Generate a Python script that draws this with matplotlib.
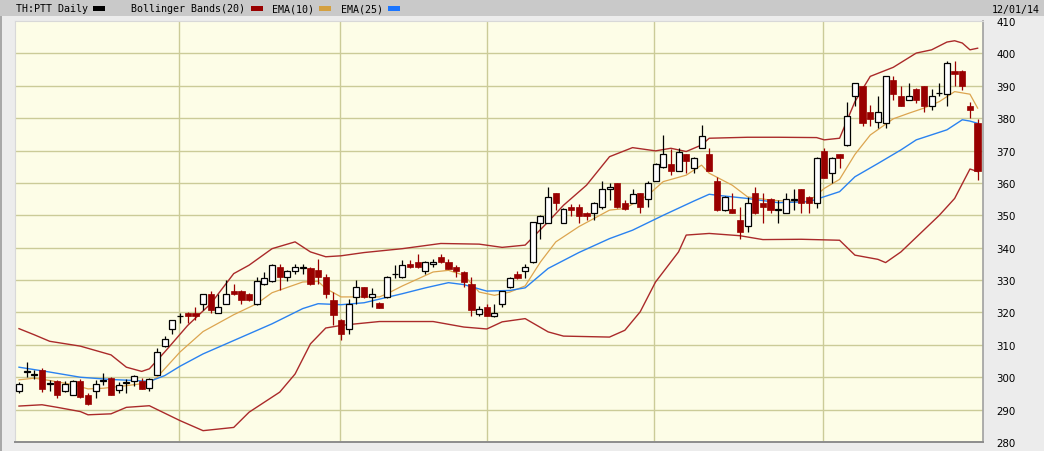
import matplotlib
matplotlib.use("Agg")
import matplotlib.pyplot as plt
from matplotlib.patches import Rectangle
import numpy as np

# daily candles, TH:PTT (index = trading day)
opens = [295.7, 301.7, 300.7, 302.1, 298.0, 298.8, 295.7, 294.6, 298.8, 294.6,
         295.7, 298.8, 299.8, 296.2, 298.2, 298.8, 298.8, 296.7, 300.8, 309.6,
         315.0, 318.8, 319.8, 319.8, 322.7, 325.6, 319.9, 322.7, 326.7, 326.7,
         325.8, 322.5, 328.9, 329.8, 333.9, 330.8, 332.8, 333.7, 333.8, 333.0,
         330.8, 324.0, 317.8, 315.0, 324.8, 327.9, 324.8, 323.0, 324.8, 331.8,
         330.8, 334.9, 335.6, 332.8, 334.9, 337.0, 335.6, 333.9, 332.5, 328.9,
         319.6, 321.8, 318.9, 322.6, 327.9, 332.0, 332.8, 335.6, 347.7, 347.7,
         356.8, 347.7, 352.6, 352.6, 350.8, 350.8, 352.6, 358.0, 359.9, 353.9,
         353.9, 356.8, 354.9, 360.7, 364.8, 365.7, 363.8, 368.8, 364.7, 370.9,
         368.8, 360.7, 351.6, 351.8, 348.7, 346.6, 356.8, 353.9, 354.9, 351.6,
         350.8, 354.8, 358.0, 355.7, 353.9, 369.9, 363.0, 368.8, 371.7, 386.7,
         389.8, 381.8, 378.7, 378.4, 391.8, 386.7, 385.6, 389.0, 389.8, 383.9,
         387.7, 387.5, 394.7, 394.7, 383.9, 378.6]
highs = [298.5, 304.7, 302.3, 302.8, 299.0, 299.2, 298.8, 299.1, 299.6, 295.0,
         299.0, 301.3, 300.0, 298.5, 299.6, 300.7, 299.7, 299.8, 309.1, 312.7,
         317.8, 319.9, 320.0, 321.7, 325.8, 326.7, 325.6, 330.0, 328.9, 327.0,
         326.0, 330.8, 332.5, 335.0, 334.9, 333.0, 334.9, 334.9, 334.0, 336.6,
         332.0, 326.2, 317.9, 324.3, 330.0, 328.0, 327.4, 323.2, 331.3, 334.6,
         336.1, 336.1, 338.0, 335.8, 336.6, 338.0, 336.6, 334.6, 332.7, 331.0,
         322.0, 322.5, 322.7, 326.7, 331.0, 332.8, 334.9, 348.0, 350.2, 358.8,
         357.0, 352.3, 353.5, 353.4, 351.0, 354.2, 360.7, 359.9, 360.0, 354.8,
         358.0, 357.0, 360.7, 366.0, 374.8, 370.5, 370.7, 369.0, 368.0, 377.9,
         370.9, 361.7, 356.0, 356.8, 352.6, 355.7, 358.8, 356.8, 355.2, 354.7,
         356.8, 358.0, 358.2, 356.0, 368.0, 370.9, 368.0, 369.0, 385.1, 391.0,
         390.0, 384.1, 386.7, 393.0, 392.9, 389.8, 390.8, 389.2, 390.0, 389.0,
         390.8, 397.8, 397.8, 394.8, 384.9, 379.7]
lows = [295.2, 300.0, 299.6, 295.5, 295.6, 293.6, 295.4, 294.4, 293.6, 291.5,
        293.6, 297.5, 294.4, 295.0, 295.0, 297.4, 296.3, 295.7, 300.6, 309.3,
        313.4, 316.8, 316.8, 317.6, 320.7, 319.8, 319.7, 322.5, 325.3, 322.7,
        323.5, 322.3, 328.5, 329.5, 326.9, 329.8, 332.0, 332.0, 328.5, 328.7,
        324.6, 316.0, 311.4, 313.4, 322.7, 324.6, 321.6, 321.3, 324.6, 330.5,
        330.6, 333.7, 333.7, 331.8, 334.0, 335.4, 333.3, 330.8, 327.9, 318.9,
        318.8, 318.8, 318.7, 321.7, 327.7, 330.3, 330.5, 335.4, 342.6, 347.5,
        351.6, 347.5, 349.7, 347.7, 348.5, 348.5, 351.8, 354.7, 352.4, 351.6,
        353.7, 350.6, 352.6, 360.5, 364.6, 362.6, 363.6, 363.0, 363.0, 370.7,
        363.6, 351.4, 351.4, 350.6, 342.6, 344.9, 350.4, 347.7, 350.8, 347.7,
        350.6, 351.6, 350.8, 350.8, 352.3, 361.4, 359.9, 364.7, 371.5, 383.7,
        377.7, 377.7, 376.9, 377.0, 385.6, 383.6, 385.5, 384.6, 382.0, 382.5,
        386.7, 383.9, 389.8, 388.7, 380.0, 360.9]
closes = [297.8, 302.0, 301.0, 296.4, 298.2, 294.6, 297.8, 298.8, 293.9, 291.6,
          297.8, 299.0, 294.6, 297.6, 298.5, 300.5, 296.4, 299.5, 307.8, 311.9,
          317.6, 319.0, 318.9, 318.9, 325.6, 320.8, 321.7, 325.6, 325.6, 323.8,
          323.9, 329.8, 330.7, 334.8, 330.8, 332.8, 333.9, 333.9, 328.7, 330.8,
          325.6, 319.2, 313.4, 322.7, 327.9, 324.8, 325.8, 321.5, 330.8, 332.0,
          334.8, 333.9, 333.9, 335.6, 335.6, 335.6, 333.5, 332.8, 329.4, 320.7,
          321.0, 318.9, 319.9, 326.5, 330.7, 330.5, 333.9, 347.8, 349.9, 355.7,
          353.9, 351.8, 351.6, 349.9, 349.9, 353.9, 358.0, 358.8, 352.6, 351.8,
          356.6, 352.6, 359.9, 365.7, 368.8, 363.8, 369.7, 366.8, 367.8, 374.6,
          363.8, 351.6, 355.7, 350.8, 344.7, 353.9, 350.6, 352.6, 351.6, 351.9,
          354.9, 355.0, 353.9, 353.9, 367.8, 361.6, 367.8, 367.8, 380.8, 390.8,
          378.4, 379.8, 381.8, 392.9, 387.5, 383.8, 386.7, 385.6, 383.8, 386.7,
          387.9, 397.0, 393.7, 389.8, 382.5, 363.7]

# indicator lines, read at the given day indices
bb_upper_idx = [0, 2, 4, 8, 12, 14, 16, 17, 19, 22, 25, 28, 30, 33, 36, 38, 40, 42, 45,
                50, 55, 60, 63, 66, 69, 71, 74, 77, 80, 83, 85, 87, 89, 90, 95, 99, 104,
                105, 107, 109, 111, 114, 117, 119, 121, 122, 123, 124, 125]
bb_upper = [315.0, 313.1, 311.1, 309.6, 306.9, 303.1, 301.8, 302.6, 307.8, 316.0, 322.7,
            332.0, 334.6, 339.7, 341.8, 338.7, 337.2, 337.5, 338.5, 339.7, 341.3, 341.1,
            340.1, 340.8, 348.0, 353.1, 359.3, 368.1, 370.9, 369.9, 370.7, 369.7, 371.7,
            373.8, 374.1, 374.1, 374.0, 373.3, 373.8, 385.1, 392.9, 395.7, 400.1, 401.1,
            403.5, 403.9, 403.2, 401.1, 401.6]
bb_lower_idx = [0, 3, 5, 8, 9, 12, 14, 17, 19, 21, 24, 28, 30, 34, 36, 38, 40, 42, 44,
                47, 54, 58, 61, 63, 66, 69, 71, 77, 79, 81, 83, 86, 87, 90, 94, 97, 102,
                107, 109, 112, 113, 115, 120, 122, 124, 125]
bb_lower = [291.1, 291.5, 290.7, 289.4, 288.4, 288.7, 290.7, 291.2, 288.9, 286.6, 283.5,
            284.5, 289.2, 295.4, 301.0, 310.3, 315.2, 316.0, 316.5, 317.2, 317.2, 315.5,
            314.9, 317.1, 318.1, 314.0, 312.7, 312.4, 314.5, 320.2, 329.4, 338.7, 343.9,
            344.4, 343.7, 342.5, 342.6, 342.3, 337.7, 336.4, 335.4, 338.7, 350.0, 355.2,
            364.3, 363.5]
ema10_idx = [0, 2, 4, 7, 9, 11, 14, 17, 18, 19, 21, 24, 28, 31, 33, 37, 39, 40, 42, 44,
             47, 48, 50, 54, 56, 58, 60, 62, 64, 66, 68, 70, 73, 77, 79, 82, 84, 87, 89,
             90, 93, 95, 98, 101, 103, 105, 107, 109, 111, 114, 116, 118, 120, 122, 124, 125]
ema10 = [299.2, 299.7, 299.0, 297.7, 296.4, 296.6, 297.4, 298.3, 300.0, 302.6, 307.8,
         314.1, 319.3, 322.7, 326.1, 329.4, 329.6, 327.4, 324.8, 324.8, 324.8, 325.8,
         328.2, 332.5, 333.0, 331.5, 326.3, 325.3, 326.3, 328.2, 335.6, 341.8, 346.5,
         351.6, 352.1, 356.2, 360.4, 362.4, 365.5, 363.0, 359.3, 355.7, 354.7, 354.2,
         354.3, 358.3, 361.1, 368.8, 374.8, 379.8, 381.5, 383.1, 385.1, 388.2, 387.4,
         383.1]
ema25_idx = [0, 4, 8, 12, 15, 17, 19, 21, 24, 27, 30, 33, 37, 39, 42, 45, 50, 53, 56, 58,
             61, 64, 66, 69, 73, 77, 80, 84, 88, 90, 91, 95, 99, 103, 107, 109, 112, 115,
             117, 121, 123, 124, 125]
ema25 = [303.1, 301.6, 300.0, 299.3, 299.0, 298.7, 300.5, 303.4, 307.2, 310.3, 313.4,
         316.5, 321.2, 322.7, 322.4, 323.0, 325.8, 327.6, 329.2, 328.6, 326.6, 326.8,
         327.6, 333.6, 338.5, 342.8, 345.4, 350.0, 354.4, 356.5, 356.2, 355.2, 353.9,
         354.2, 357.3, 361.9, 366.0, 370.2, 373.3, 376.4, 379.5, 379.1, 378.4]

# month boundaries (in day-index units)
month_lines = [20.9, 41.9, 61.0, 82.8, 104.8]
yticks = list(range(280, 411, 10))

UP_EDGE = "#000000"
DOWN = "#990000"
BAND = "#aa2a2a"
EMA10_C = "#dca550"
EMA25_C = "#2a82f0"

W, H = 1044, 452
fig = plt.figure(figsize=(W / 100, H / 100), dpi=100)
fig.patch.set_facecolor("#ececec")


def px(x, y):
    return x / W, 1 - y / H


# header bar
fig.patches.append(Rectangle((0, 1 - 17 / H), 1, 17 / H, transform=fig.transFigure,
                             facecolor="#c9c9c9", edgecolor="none", zorder=0))
fig.patches.append(Rectangle((0, 0), 2 / W, 1 - 17 / H, transform=fig.transFigure,
                             facecolor="#a8a8a8", edgecolor="none", zorder=0))

mono = dict(family="DejaVu Sans Mono", fontsize=7.2, va="center", color="black")
fig.text(*px(16, 9.5), "TH:PTT Daily", **mono)
fig.text(*px(131, 9.5), "Bollinger Bands(20)", **mono)
fig.text(*px(272, 9.5), "EMA(10)", **mono)
fig.text(*px(341, 9.5), "EMA(25)", **mono)
fig.text(*px(1040, 9.5), "12/01/14", ha="right", **mono)
for x0, col in [(93, "black"), (251, DOWN), (319, "#d4a040"), (388, "#1a75ff")]:
    fig.patches.append(Rectangle(px(x0, 11.5), 12 / W, 4.5 / H, transform=fig.transFigure,
                                 facecolor=col, edgecolor="none", zorder=2))

ax = fig.add_axes([15 / W, 9 / H, 968 / W, 421 / H])
ax.set_facecolor("#fdfde7")

days = np.arange(len(closes))
o = np.array(opens)
c = np.array(closes)
hi = np.array(highs)
lo = np.array(lows)
up = c >= o

# grid
for yv in yticks[1:-1]:
    ax.axhline(yv, color="#cbcb98", linewidth=1.0, zorder=0)
for xv in month_lines:
    ax.axvline(xv, color="#cbcb98", linewidth=1.0, zorder=0)

# indicator lines
ax.plot(bb_upper_idx, bb_upper, color=BAND, linewidth=1.0, zorder=1)
ax.plot(bb_lower_idx, bb_lower, color=BAND, linewidth=1.0, zorder=1)
ax.plot(ema10_idx, ema10, color=EMA10_C, linewidth=0.9, zorder=1)
ax.plot(ema25_idx, ema25, color=EMA25_C, linewidth=1.0, zorder=1)

# candles
ax.vlines(days[up], lo[up], hi[up], color=UP_EDGE, linewidth=0.9, zorder=2)
ax.vlines(days[~up], lo[~up], hi[~up], color=DOWN, linewidth=0.9, zorder=2)
body = np.maximum(np.abs(c - o), 0.15)
bottom = np.minimum(o, c)
ax.bar(days[up], body[up], bottom=bottom[up], width=0.78, facecolor="white",
       edgecolor=UP_EDGE, linewidth=0.9, zorder=3)
ax.bar(days[~up], body[~up], bottom=bottom[~up], width=0.82, facecolor=DOWN,
       edgecolor=DOWN, linewidth=0.5, zorder=3)

ax.set_xlim(-0.52, 125.7)
ax.set_ylim(280, 410)
ax.set_xticks([])
ax.set_yticks(yticks)
ax.yaxis.tick_right()
ax.tick_params(axis="y", length=0, pad=9.4, labelsize=7.4)
for lab in ax.get_yticklabels():
    lab.set_fontfamily("DejaVu Sans")

for side in ["top", "left"]:
    ax.spines[side].set_color("#d8d8d8")
    ax.spines[side].set_linewidth(0.8)
ax.spines["bottom"].set_color("#8c8c8c")
ax.spines["bottom"].set_linewidth(1.4)
ax.spines["right"].set_color("#a0a0a0")
ax.spines["right"].set_linewidth(1.2)

fig.savefig("out.png", dpi=100, facecolor=fig.get_facecolor())
